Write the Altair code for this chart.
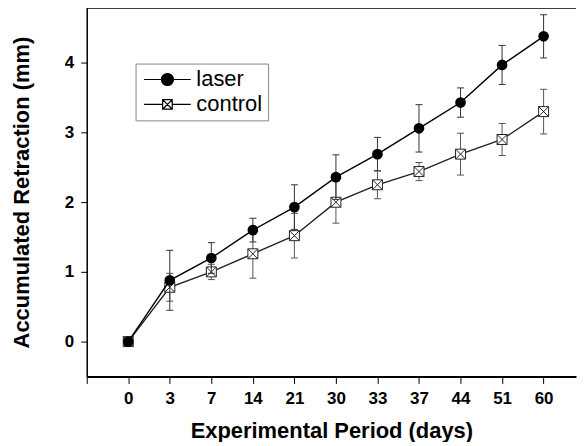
import altair as alt
import pandas as pd

days = [0, 3, 7, 14, 21, 30, 33, 37, 44, 51, 60]
laser_mean = [0.0, 0.88, 1.20, 1.60, 1.93, 2.36, 2.69, 3.06, 3.43, 3.97, 4.38]
laser_sd = [0.0, 0.43, 0.22, 0.17, 0.32, 0.32, 0.24, 0.34, 0.21, 0.28, 0.31]
control_mean = [0.0, 0.78, 1.00, 1.26, 1.52, 2.00, 2.25, 2.44, 2.69, 2.90, 3.30]
control_sd = [0.0, 0.20, 0.11, 0.35, 0.32, 0.30, 0.20, 0.13, 0.30, 0.23, 0.32]
series_names = ["laser", "control"]

Y_MIN, Y_MAX = -0.5, 4.79
X_MIN, X_MAX = -1, 10.78
FONT = "Liberation Sans"

rows = []
for i, d in enumerate(days):
    rows.append({"idx": i, "day": d, "series": "laser", "mean": laser_mean[i],
                 "lo": laser_mean[i] - laser_sd[i], "hi": laser_mean[i] + laser_sd[i]})
    rows.append({"idx": i, "day": d, "series": "control", "mean": control_mean[i],
                 "lo": control_mean[i] - control_sd[i], "hi": control_mean[i] + control_sd[i]})
df = pd.DataFrame(rows)
df_l = df[df.series == "laser"]
df_c = df[df.series == "control"]

label_list = "[" + ",".join("'%d'" % d for d in days) + "]"
x_axis = alt.Axis(
    values=list(range(-1, len(days))),
    labelExpr="datum.value < 0 ? '' : " + label_list + "[datum.value]",
    title="Experimental Period (days)",
    tickSize=7, labelPadding=7, titlePadding=14,
)
y_axis = alt.Axis(
    values=[0, 1, 2, 3, 4], format="d",
    title="Accumulated Retraction (mm)",
    tickSize=6, labelPadding=7, titlePadding=31,
)
xs = alt.Scale(domain=[X_MIN, X_MAX], nice=False, zero=False)
ys = alt.Scale(domain=[Y_MIN, Y_MAX], nice=False, zero=False)

X = alt.X("idx:Q", scale=xs, axis=x_axis)
Y = alt.Y("mean:Q", scale=ys, axis=y_axis)

ctrl_path = "M-1,-1H1V1H-1Z M-1,-1L1,1 M1,-1L-1,1"
leg_laser = "M-1,0A1,1,0,1,1,1,0A1,1,0,1,1,-1,0Z M-3.9,0L-1,0 M1,0L3.9,0"
leg_ctrl = ("M-0.8,-0.8H0.8V0.8H-0.8Z M-0.8,-0.8L0.8,0.8 M0.8,-0.8L-0.8,0.8 "
            "M-3.9,0L-0.8,0 M0.8,0L3.9,0")


def series_layers(d, line_color, bar_color, point):
    base = alt.Chart(d)
    line = base.mark_line(color=line_color, strokeWidth=1.4).encode(x=X, y=Y)
    rule = base.mark_rule(color=bar_color, strokeWidth=1).encode(
        x=X, y=alt.Y("lo:Q", scale=ys, axis=y_axis), y2="hi:Q")
    cap_lo = base.mark_tick(orient="horizontal", size=7, thickness=1, color=bar_color, opacity=1).encode(
        x=X, y=alt.Y("lo:Q", scale=ys, axis=y_axis))
    cap_hi = base.mark_tick(orient="horizontal", size=7, thickness=1, color=bar_color, opacity=1).encode(
        x=X, y=alt.Y("hi:Q", scale=ys, axis=y_axis))
    return [line, rule, cap_lo, cap_hi, point.encode(x=X, y=Y)]


ctrl_pts = alt.Chart(df_c).mark_point(shape=ctrl_path, size=100, fill="white", stroke="#222",
                                      strokeWidth=1, opacity=1, fillOpacity=1)
laser_pts = alt.Chart(df_l).mark_point(shape="circle", size=115, filled=True, color="black", opacity=1)

legend = alt.Legend(
    title=None, orient="none", legendX=49, legendY=56,
    symbolSize=144, symbolStrokeWidth=1.2, symbolOpacity=1,
    symbolOffset=16, labelOffset=18,
    labelFont=FONT, labelFontSize=22, labelColor="black",
    rowPadding=3, padding=5, strokeColor="#888", fillColor="white",
)
legend_layer = alt.Chart(df).mark_point(filled=True, opacity=0, strokeWidth=1.2).encode(
    x=X, y=Y,
    shape=alt.Shape("series:N", scale=alt.Scale(domain=series_names, range=[leg_laser, leg_ctrl]), legend=legend),
    fill=alt.Fill("series:N", scale=alt.Scale(domain=series_names, range=["black", "white"]), legend=legend),
    stroke=alt.Stroke("series:N", scale=alt.Scale(domain=series_names, range=["black", "black"]), legend=legend),
)

top_rule = alt.Chart(pd.DataFrame({"y": [Y_MAX]})).mark_rule(color="black", strokeWidth=2).encode(
    y=alt.Y("y:Q", scale=ys, axis=y_axis))

layers = (series_layers(df_c, "#222", "#555", ctrl_pts)
          + series_layers(df_l, "black", "#333", laser_pts)
          + [top_rule, legend_layer])

chart = alt.layer(*layers).properties(
    width=491, height=370,
    padding={"left": 2, "top": -2, "right": 0, "bottom": 0},
).configure_view(stroke=None).configure_axis(
    grid=False,
    domainColor="black", domainWidth=1.5,
    tickColor="black", tickWidth=1,
    labelFont=FONT, labelFontSize=17, labelFontWeight="bold", labelColor="black",
    titleFont=FONT, titleFontSize=22, titleFontWeight="bold", titleColor="black",
).configure_axisX(domainWidth=2)

chart.save("out.html", embed_options={"renderer": "svg", "actions": False})
